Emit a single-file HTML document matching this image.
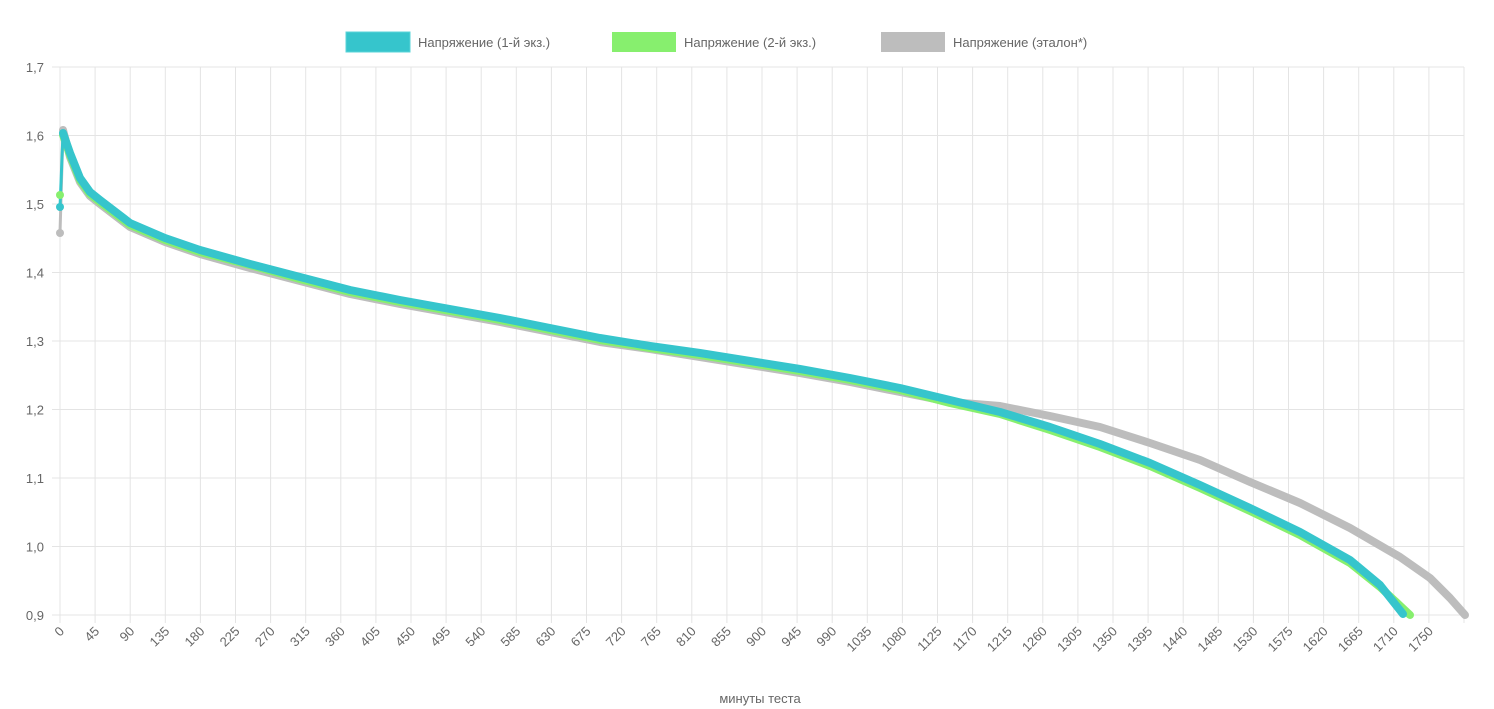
<!DOCTYPE html>
<html><head><meta charset="utf-8"><style>
html,body{margin:0;padding:0;background:#fff;}
svg{display:block;font-family:"Liberation Sans",sans-serif;}
</style></head><body>
<svg width="1494" height="709" viewBox="0 0 1494 709" xmlns="http://www.w3.org/2000/svg">
<g id="grid" stroke="#e4e4e4" stroke-width="1"></g>
<g id="ylab" fill="#666" font-size="13" text-anchor="end"></g>
<g id="xlab" fill="#666" font-size="13" text-anchor="end"></g>
<rect x="346" y="32" width="64" height="20" fill="#36c5cc" stroke="#5ad4d8"/>
<text x="418" y="47" fill="#666" font-size="13">Напряжение (1-й экз.)</text>
<rect x="612" y="32" width="64" height="20" fill="#87ef6e"/>
<text x="684" y="47" fill="#666" font-size="13">Напряжение (2-й экз.)</text>
<rect x="881" y="32" width="64" height="20" fill="#bdbdbd"/>
<text x="953" y="47" fill="#666" font-size="13">Напряжение (эталон*)</text>
<text x="760" y="703" fill="#666" font-size="13" text-anchor="middle">минуты теста</text>
<g fill="none" stroke-linejoin="round" stroke-linecap="round">
<polyline stroke="#bdbdbd" stroke-width="3" points="60,233 63,130"/>
<polyline stroke="#bdbdbd" stroke-width="8" points="63,130 70,157 80,182 90,196 100,204 130,227 165,242 200,254 250,268 300,281 350,294 400,304 450,313 500,322 550,332 600,342 650,349 700,357 750,365 800,373 850,382 900,392 950,402 1000,406 1050,416 1100,427 1150,443 1200,460 1250,482 1300,503 1350,528 1400,557 1430,578 1450,598 1465,615"/>
<polyline stroke="#87ef6e" stroke-width="8" points="63,135 70,155 80,180 90,194 100,202 130,225 165,240 200,252 250,265 300,279 350,292 400,302 450,311 500,320 550,330 600,340 650,348 700,355 750,363 800,371 850,380 900,390 950,403 1000,414 1050,430 1100,447 1150,466 1200,488 1250,511 1300,535 1350,563 1380,587 1410,615"/>
<polyline stroke="#36c5cc" stroke-width="3" points="60,207 63,133"/>
<polyline stroke="#36c5cc" stroke-width="8" points="63,133 70,153 80,178 90,192 100,200 130,223 165,238 200,250 250,264 300,277 350,290 400,300 450,309 500,318 550,328 600,338 650,346 700,353 750,361 800,369 850,378 900,388 950,400 1000,412 1050,427 1100,444 1150,463 1200,485 1250,508 1300,532 1350,560 1380,585 1403,614"/>
<circle cx="60" cy="207" r="4" fill="#36c5cc" stroke="none"/>
<circle cx="60" cy="195" r="4" fill="#87ef6e" stroke="none"/>
<circle cx="60" cy="233" r="4" fill="#bdbdbd" stroke="none"/>
</g>
</svg>
<script>
const ns="http://www.w3.org/2000/svg";
const g=document.getElementById('grid'),yl=document.getElementById('ylab'),xl=document.getElementById('xlab');
function el(p,t,a){const e=document.createElementNS(ns,t);for(const k in a)e.setAttribute(k,a[k]);p.appendChild(e);return e;}
const labs=['1,7','1,6','1,5','1,4','1,3','1,2','1,1','1,0','0,9'];
for(let i=0;i<9;i++){const y=67+i*68.5;el(g,'line',{x1:52,x2:1464,y1:y,y2:y});const t=el(yl,'text',{x:44,y:y+5});t.textContent=labs[i];}
for(let i=0;i<=40;i++){const x=60+i*35.1;el(g,'line',{x1:x,x2:x,y1:67,y2:623});
 if(i<40){const v=i<39?i*45:1750;const t=el(xl,'text',{x:0,y:0,transform:`translate(${x+5},${632}) rotate(-45)`});t.textContent=v;}}
</script>
</body></html>
